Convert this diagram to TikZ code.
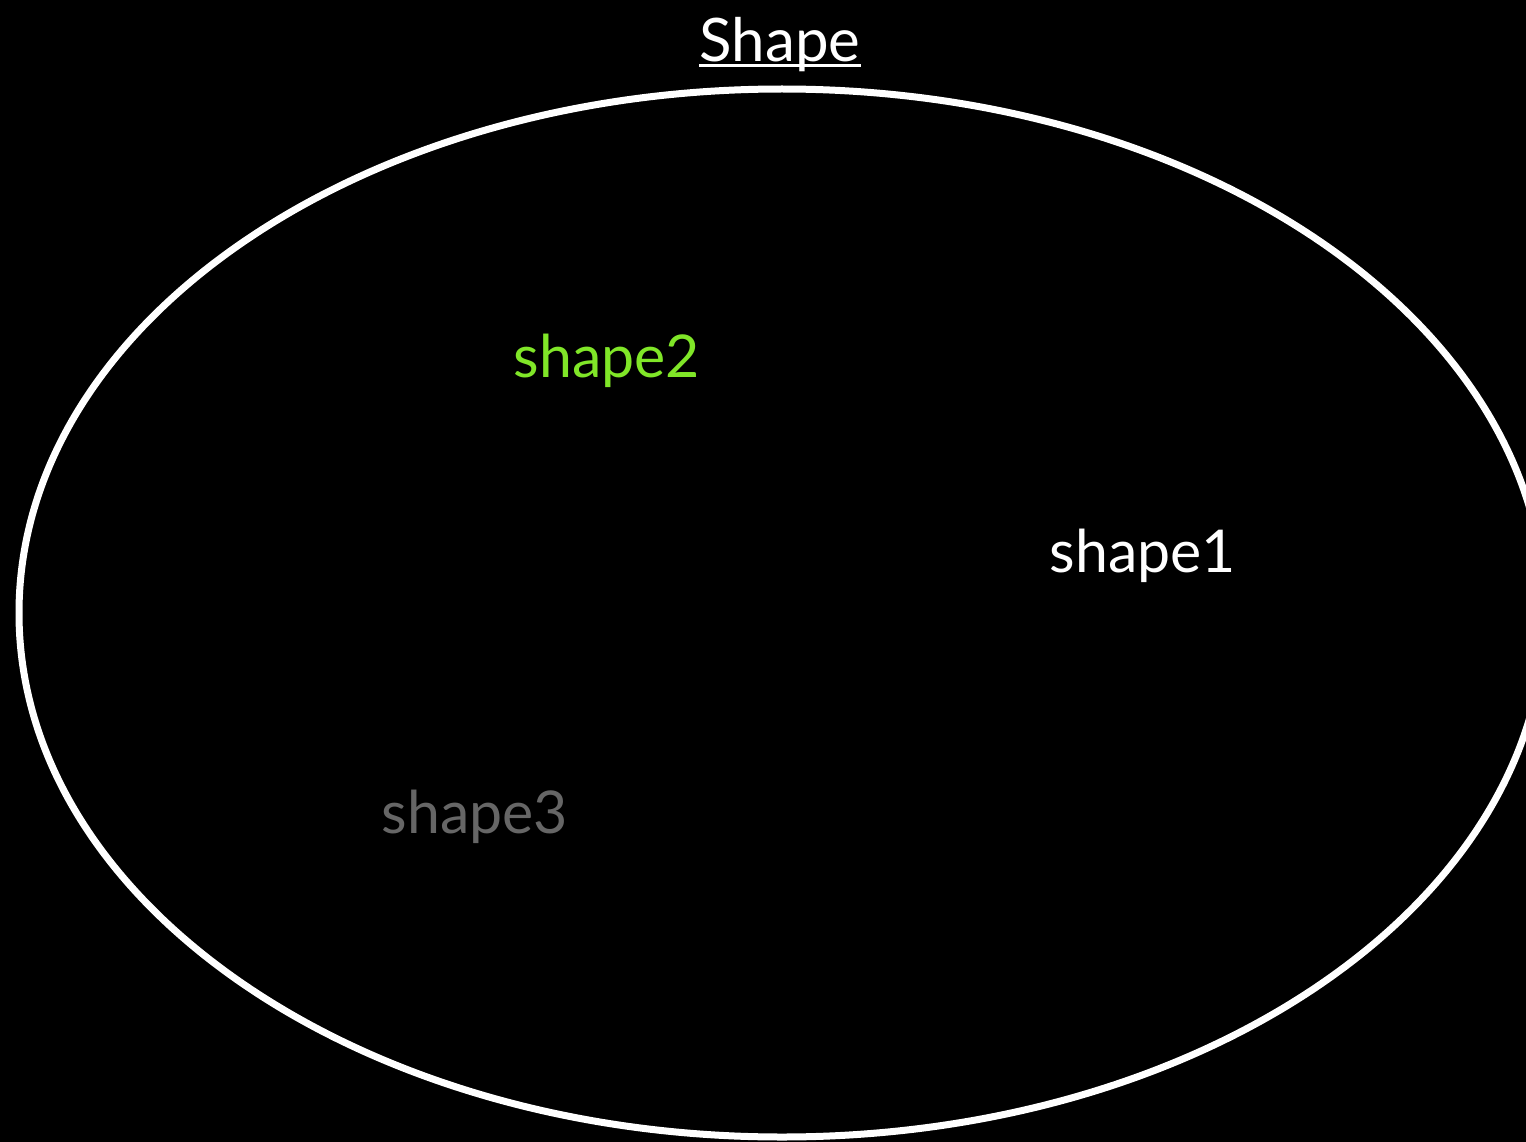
\documentclass[tikz,border=0pt]{standalone}
\usepackage{fontspec}
\setmainfont{Lato}
\usetikzlibrary{shapes.geometric}
\definecolor{limegreen}{RGB}{128,230,40}
\definecolor{midgray}{RGB}{102,102,102}
\tikzset{
  label text/.style={inner sep=0pt, anchor=base, font=\fontsize{59}{61}\selectfont},
  outline/.style={ellipse, draw=white, line width=7pt, inner sep=0pt,
                  minimum width=1526pt, minimum height=1048pt}
}
\begin{document}
\begin{tikzpicture}[x=1pt,y=-1pt]
  \fill[black] (0,0) rectangle (1526,1142);
  \useasboundingbox (0,0) rectangle (1526,1142);
  \node[outline] (set) at (782,613) {};
  \node[label text, text=white, font=\fontsize{60}{62}\selectfont] (title) at (780,62) {Shape};
  \draw[white, line width=3pt] ([yshift=-4pt]title.base west) -- ([yshift=-4pt]title.base east);
  \node[label text, text=limegreen] (s2) at (607,377) {shape2};
  \node[label text, text=white] (s1) at (1143,572) {shape1};
  \node[label text, text=midgray] (s3) at (475,833) {shape3};
\end{tikzpicture}
\end{document}
